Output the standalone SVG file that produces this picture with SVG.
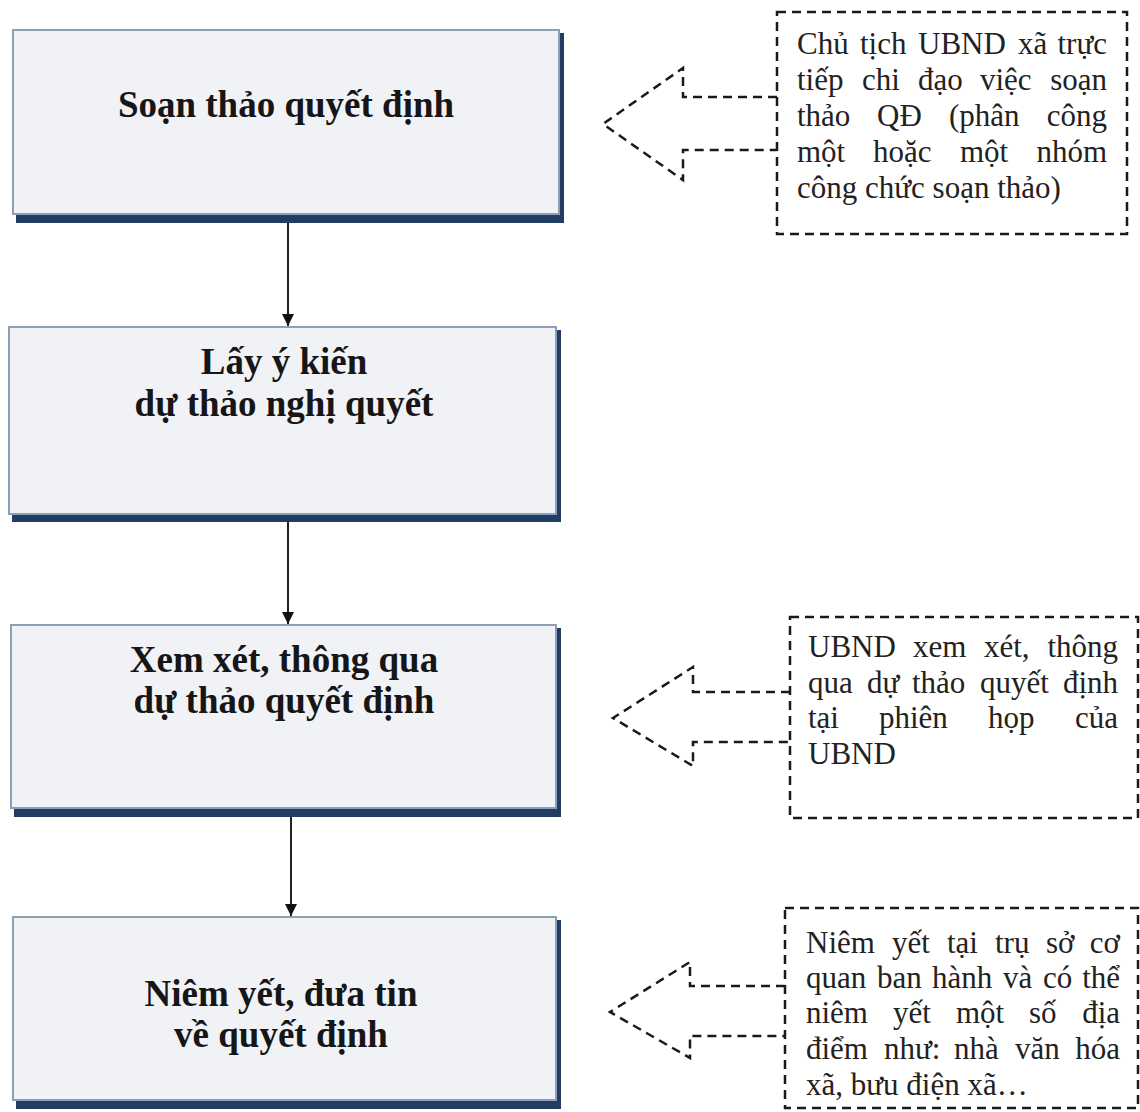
<svg xmlns="http://www.w3.org/2000/svg" width="1140" height="1112" viewBox="0 0 1140 1112">
<defs>
<marker id="ah" viewBox="0 0 10 10" refX="10" refY="5" markerWidth="6" markerHeight="6" orient="auto" markerUnits="strokeWidth">
<path d="M0,0 L10,5 L0,10 z" fill="#111"/>
</marker>
</defs>
<style>
.shadow{fill:#223d63}
.box{fill:#f1f2f6;stroke:#8d9fb6;stroke-width:2}
.title{font-family:"Liberation Serif","Times New Roman",serif;font-weight:bold;font-size:37px;fill:#161616;text-anchor:middle}
.note{font-family:"Liberation Serif","Times New Roman",serif;font-size:31px;fill:#222}
.dash{fill:none;stroke:#1a1a1a;stroke-width:2.5;stroke-dasharray:9 6}
.conn{stroke:#222;stroke-width:2;fill:none}
.e{text-anchor:end}
</style>
<rect width="1140" height="1112" fill="#ffffff"/>

<g id="node1">
<rect class="shadow" x="16" y="33" width="548" height="190"/>
<rect class="box" x="13" y="30" width="546" height="184"/>
<text class="title" x="286" y="117">Soạn thảo quyết định</text>
</g>

<g id="node2">
<rect class="shadow" x="12" y="330" width="549" height="192"/>
<rect class="box" x="9" y="327" width="547" height="187"/>
<text class="title" x="284" y="374">Lấy ý kiến</text>
<text class="title" x="284" y="416">dự thảo nghị quyết</text>
</g>

<g id="node3">
<rect class="shadow" x="14" y="628" width="547" height="189"/>
<rect class="box" x="11" y="625" width="545" height="183"/>
<text class="title" x="284" y="672">Xem xét, thông qua</text>
<text class="title" x="284" y="713">dự thảo quyết định</text>
</g>

<g id="node4">
<rect class="shadow" x="16" y="920" width="545" height="189"/>
<rect class="box" x="13" y="917" width="543" height="183"/>
<text class="title" x="281" y="1006">Niêm yết, đưa tin</text>
<text class="title" x="281" y="1047">về quyết định</text>
</g>

<g id="note1">
<rect class="dash" x="777" y="12" width="350" height="222"/>
<path class="dash" d="M777,97 L683,97 L683,68 L603,124 L683,180 L683,150 L777,150"/>
<text class="note" y="54"><tspan x="797">Chủ</tspan><tspan x="860">tịch</tspan><tspan x="918">UBND</tspan><tspan x="1018">xã</tspan></text>
<text class="note e" x="1107" y="54">trực</text>
<text class="note" y="90"><tspan x="797">tiếp</tspan><tspan x="862">chi</tspan><tspan x="918">đạo</tspan><tspan x="980">việc</tspan></text>
<text class="note e" x="1107" y="90">soạn</text>
<text class="note" y="126"><tspan x="797">thảo</tspan><tspan x="877">QĐ</tspan><tspan x="949">(phân</tspan></text>
<text class="note e" x="1107" y="126">công</text>
<text class="note" y="162"><tspan x="797">một</tspan><tspan x="873">hoặc</tspan><tspan x="960">một</tspan></text>
<text class="note e" x="1107" y="162">nhóm</text>
<text class="note" x="797" y="198">công chức soạn thảo)</text>
</g>

<g id="note2">
<rect class="dash" x="790" y="617" width="348" height="201"/>
<path class="dash" d="M790,692 L693,692 L693,667 L613,718 L693,766 L693,742 L790,742"/>
<text class="note" y="657"><tspan x="808">UBND</tspan><tspan x="913">xem</tspan><tspan x="984">xét,</tspan></text>
<text class="note e" x="1118" y="657">thông</text>
<text class="note" y="693"><tspan x="808">qua</tspan><tspan x="867">dự</tspan><tspan x="912">thảo</tspan><tspan x="980">quyết</tspan></text>
<text class="note e" x="1118" y="693">định</text>
<text class="note" y="728"><tspan x="808">tại</tspan><tspan x="879">phiên</tspan><tspan x="988">họp</tspan></text>
<text class="note e" x="1118" y="728">của</text>
<text class="note" x="808" y="764">UBND</text>
</g>

<g id="note3">
<rect class="dash" x="785" y="908" width="353" height="200"/>
<path class="dash" d="M785,986 L690,986 L690,962 L610,1012 L690,1058 L690,1036 L785,1036"/>
<text class="note" y="953"><tspan x="806">Niêm</tspan><tspan x="892">yết</tspan><tspan x="947">tại</tspan><tspan x="995">trụ</tspan><tspan x="1046">sở</tspan></text>
<text class="note e" x="1120" y="953">cơ</text>
<text class="note" y="988"><tspan x="806">quan</tspan><tspan x="877">ban</tspan><tspan x="932">hành</tspan><tspan x="1003">và</tspan><tspan x="1043">có</tspan></text>
<text class="note e" x="1120" y="988">thể</text>
<text class="note" y="1023"><tspan x="806">niêm</tspan><tspan x="893">yết</tspan><tspan x="956">một</tspan><tspan x="1029">số</tspan></text>
<text class="note e" x="1120" y="1023">địa</text>
<text class="note" y="1059"><tspan x="806">điểm</tspan><tspan x="884">như:</tspan><tspan x="954">nhà</tspan><tspan x="1015">văn</tspan></text>
<text class="note e" x="1120" y="1059">hóa</text>
<text class="note" x="806" y="1095">xã, bưu điện xã…</text>
</g>

<g id="connectors">
<line class="conn" x1="288" y1="223" x2="288" y2="326" marker-end="url(#ah)"/>
<line class="conn" x1="288" y1="522" x2="288" y2="624" marker-end="url(#ah)"/>
<line class="conn" x1="291" y1="817" x2="291" y2="916" marker-end="url(#ah)"/>
</g>
</svg>
